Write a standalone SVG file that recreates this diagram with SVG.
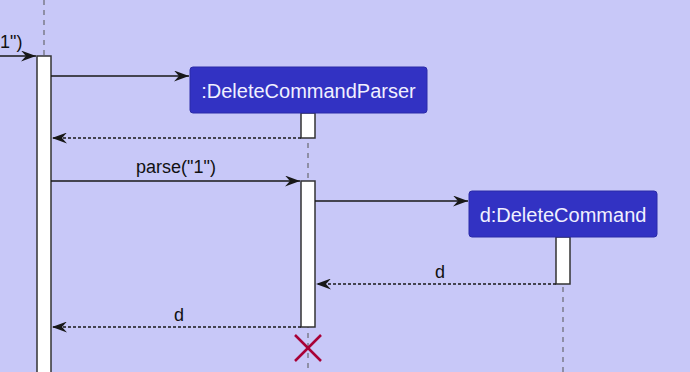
<svg xmlns="http://www.w3.org/2000/svg" width="690" height="372" viewBox="0 0 690 372">
  <style>
    .life { stroke: #555; stroke-width: 1; stroke-dasharray: 5 5; fill: none; }
    .act { fill: #ffffff; stroke: #333; stroke-width: 1.5; }
    .node rect { fill: #3232c3; stroke: #2a2aa8; stroke-width: 1; }
    .node text { font-family: "Liberation Sans", Arial, sans-serif; font-size: 20px; fill: #f0f0ff; text-anchor: middle; }
    .msg { stroke: #181818; stroke-width: 1.3; fill: none; }
    .ret { stroke: #181818; stroke-width: 1.3; fill: none; stroke-dasharray: 3 2; }
    .lbl { font-family: "Liberation Sans", Arial, sans-serif; font-size: 18px; fill: #111; text-anchor: middle; }
    .lbl.start { text-anchor: start; }
    .destroy { stroke: #a80036; stroke-width: 2.5; }
  </style>
  <defs>
    <marker id="arrow" viewBox="0 0 15 11" refX="15" refY="5.5" markerWidth="15" markerHeight="11" markerUnits="userSpaceOnUse" orient="auto">
      <path d="M0,0 L15,5.5 L0,11 L5,5.5 Z" fill="#181818"/>
    </marker>
  </defs>

  <rect width="690" height="372" fill="#c8c8f8"/>

  <!-- lifelines -->
  <g id="lifelines">
    <line class="life" x1="44" y1="0" x2="44" y2="56"/>
    <line class="life" x1="308" y1="113" x2="308" y2="372"/>
    <line class="life" x1="563" y1="237" x2="563" y2="372"/>
  </g>

  <!-- activation bars -->
  <g id="activations">
    <rect class="act" x="37" y="56" width="14" height="330"/>
    <rect class="act" x="301" y="113" width="14" height="25"/>
    <rect class="act" x="301" y="181" width="14" height="146"/>
    <rect class="act" x="556" y="237" width="14" height="47"/>
  </g>

  <g id="parser" class="node">
    <rect x="190" y="67" width="237" height="46" rx="3"/>
    <text x="308.5" y="98">:DeleteCommandParser</text>
  </g>

  <g id="command" class="node">
    <rect x="469" y="191" width="188" height="46" rx="3"/>
    <text x="563" y="222">d:DeleteCommand</text>
  </g>

  <g id="connectors">
    <line class="msg" x1="0" y1="56" x2="36" y2="56" marker-end="url(#arrow)"/>
    <text class="lbl start" x="0" y="48">1")</text>
    <line class="msg" x1="51" y1="76" x2="189" y2="76" marker-end="url(#arrow)"/>
    <line class="ret" x1="301" y1="138" x2="52" y2="138" marker-end="url(#arrow)"/>
    <line class="msg" x1="51" y1="181" x2="300" y2="181" marker-end="url(#arrow)"/>
    <text class="lbl" x="176" y="173">parse("1")</text>
    <line class="msg" x1="315" y1="201" x2="468" y2="201" marker-end="url(#arrow)"/>
    <line class="ret" x1="556" y1="284" x2="316" y2="284" marker-end="url(#arrow)"/>
    <text class="lbl" x="440" y="278">d</text>
    <line class="ret" x1="301" y1="327" x2="52" y2="327" marker-end="url(#arrow)"/>
    <text class="lbl" x="179" y="321">d</text>
  </g>

  <g id="destroy">
    <line class="destroy" x1="295" y1="335" x2="321" y2="361"/>
    <line class="destroy" x1="321" y1="335" x2="295" y2="361"/>
  </g>
</svg>
